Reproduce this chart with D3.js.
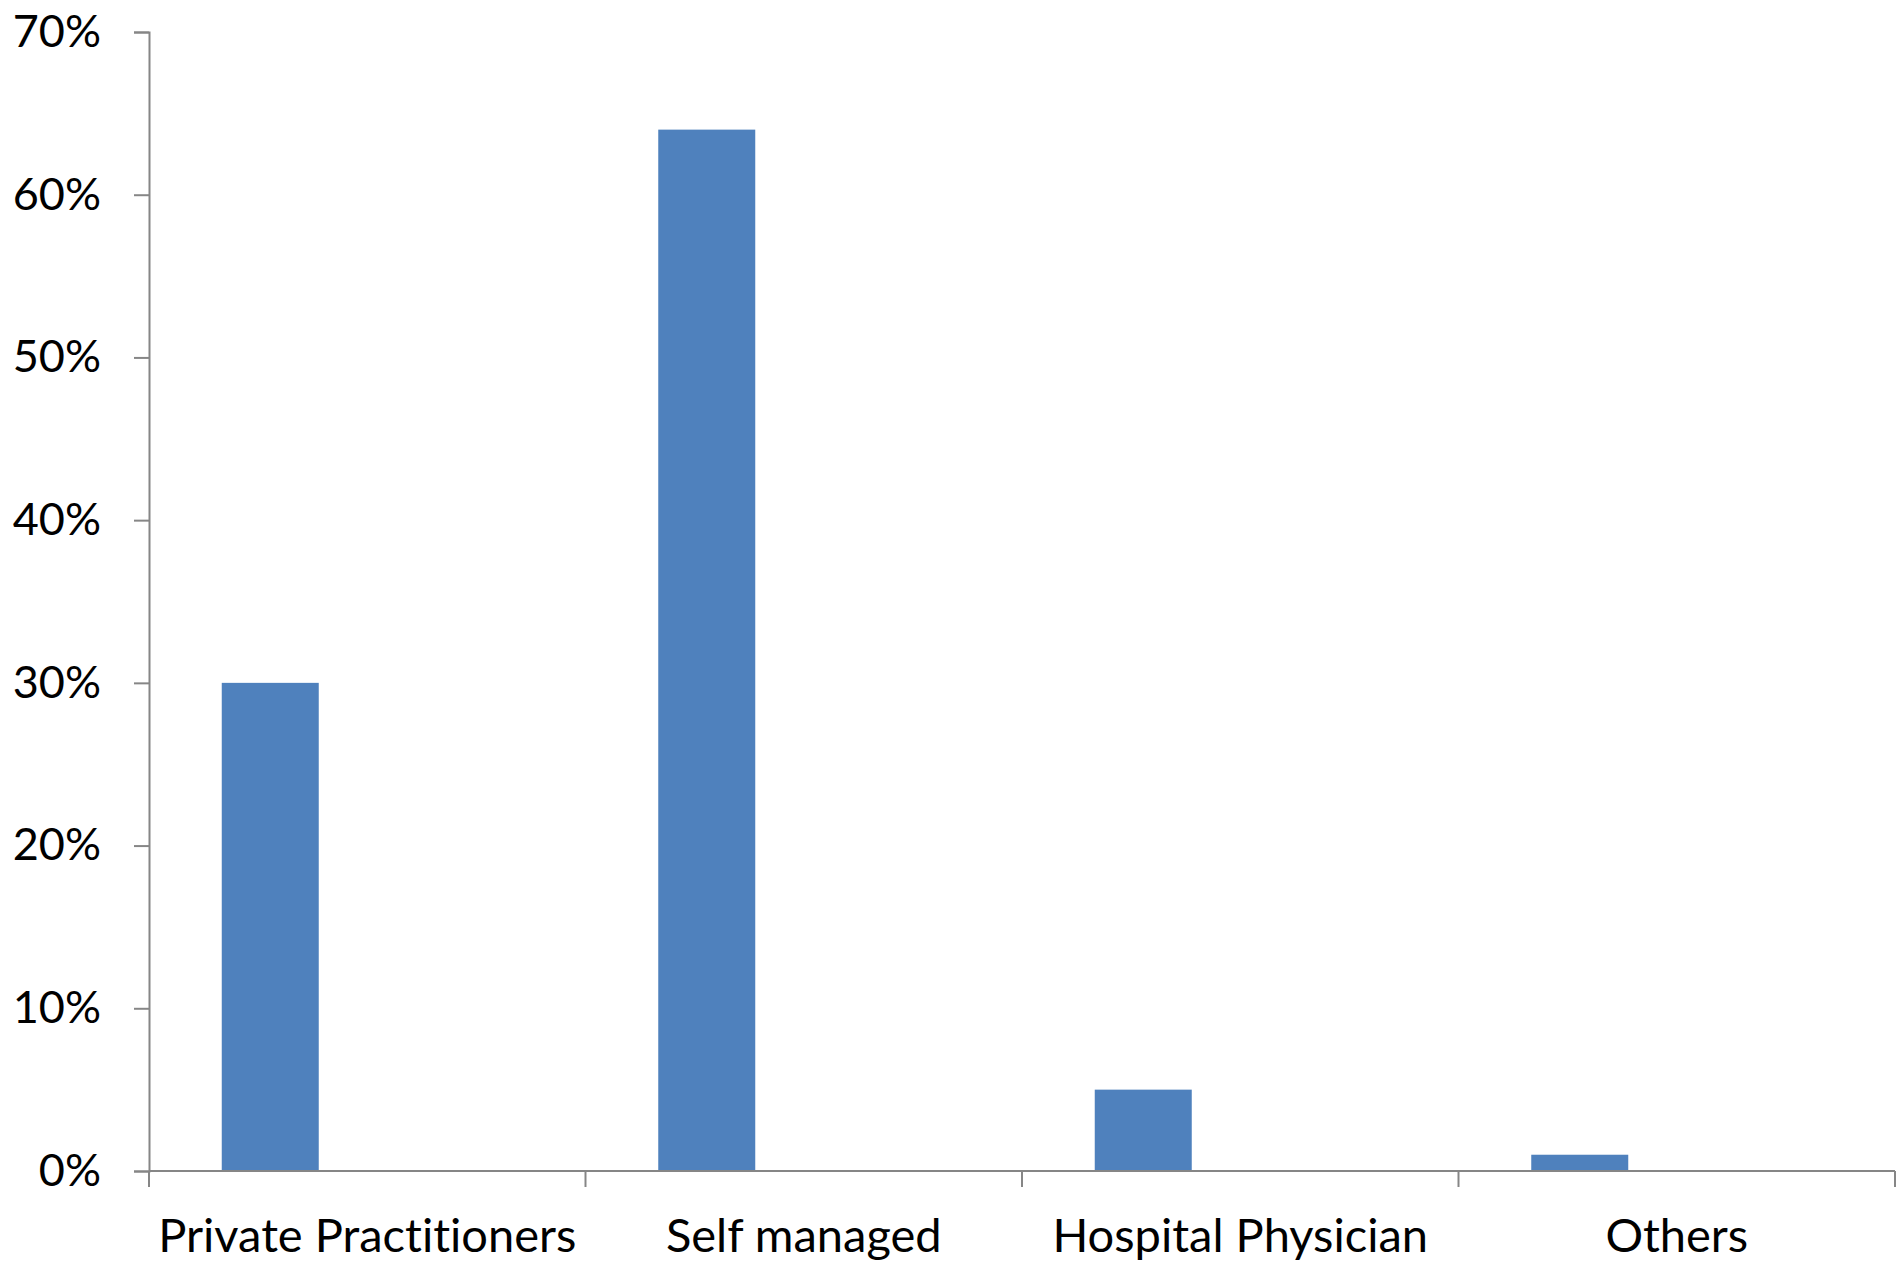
<!DOCTYPE html>
<html>
<head>
<meta charset="utf-8">
<script src="https://cdn.jsdelivr.net/npm/d3@7"></script>
<style>
  html, body { margin: 0; padding: 0; background: #fff; }
  svg { display: block; }
  text { font-family: Lato, "Liberation Sans", sans-serif; fill: #000; font-variant-ligatures: none; font-feature-settings: "liga" 0; }
</style>
</head>
<body>
<svg id="chart" width="1903" height="1264"></svg>
<script>
// Share of respondents by source of treatment management
const categories = ["Private Practitioners", "Self managed", "Hospital Physician", "Others"];
const shares = [30, 64, 5, 1];
const yTicks = [0, 10, 20, 30, 40, 50, 60, 70];

const W = 1903, H = 1264;
const margin = { top: 32, right: 8, bottom: 93, left: 149 };
const svg = d3.select("#chart");

const x = d3.scaleBand()
  .domain(categories)
  .range([margin.left, W - margin.right])
  .paddingInner(0).paddingOuter(0);

// each category band holds three slots; the bar sits in the first one
const slot = d3.scaleBand()
  .domain([0, 1, 2])
  .range([0, x.bandwidth()])
  .paddingInner(0).paddingOuter(0.75);

const y = d3.scaleLinear()
  .domain([0, 70])
  .range([H - margin.bottom, margin.top]);

const axisColor = "#868686";

// bars
svg.append("g")
  .selectAll("rect")
  .data(shares)
  .join("rect")
  .attr("x", (d, i) => x(categories[i]) + slot(0))
  .attr("width", slot.bandwidth())
  .attr("y", d => y(d))
  .attr("height", d => y(0) - y(d))
  .attr("fill", "#4F81BD");

// y axis
const yAxis = svg.append("g")
  .attr("transform", `translate(${margin.left},0)`)
  .call(d3.axisLeft(y)
    .tickValues(yTicks)
    .tickSize(15)
    .tickPadding(33)
    .tickFormat(d => d + "%"));
yAxis.select(".domain").attr("stroke", axisColor).attr("stroke-width", 2);
yAxis.selectAll(".tick line").attr("stroke", axisColor).attr("stroke-width", 2);
yAxis.selectAll(".tick text")
  .style("font-family", "Lato, 'Liberation Sans', sans-serif")
  .style("font-size", "45px")
  .attr("fill", "#000");

// x axis: baseline, boundary ticks, centred category labels
const xAxis = svg.append("g");
const y0 = y(0);
xAxis.append("line")
  .attr("x1", margin.left).attr("x2", W - margin.right)
  .attr("y1", y0).attr("y2", y0)
  .attr("stroke", axisColor).attr("stroke-width", 2);

const boundaries = categories.map(c => x(c)).concat([x.range()[1]]);
xAxis.selectAll("line.tick")
  .data(boundaries)
  .join("line")
  .attr("class", "tick")
  .attr("x1", d => d).attr("x2", d => d)
  .attr("y1", y0).attr("y2", y0 + 16)
  .attr("stroke", axisColor).attr("stroke-width", 2);

xAxis.selectAll("text")
  .data(categories)
  .join("text")
  .attr("x", d => x(d) + x.bandwidth() / 2)
  .attr("y", 1252)
  .attr("text-anchor", "middle")
  .style("font-size", "47px")
  .text(d => d);
</script>
</body>
</html>
